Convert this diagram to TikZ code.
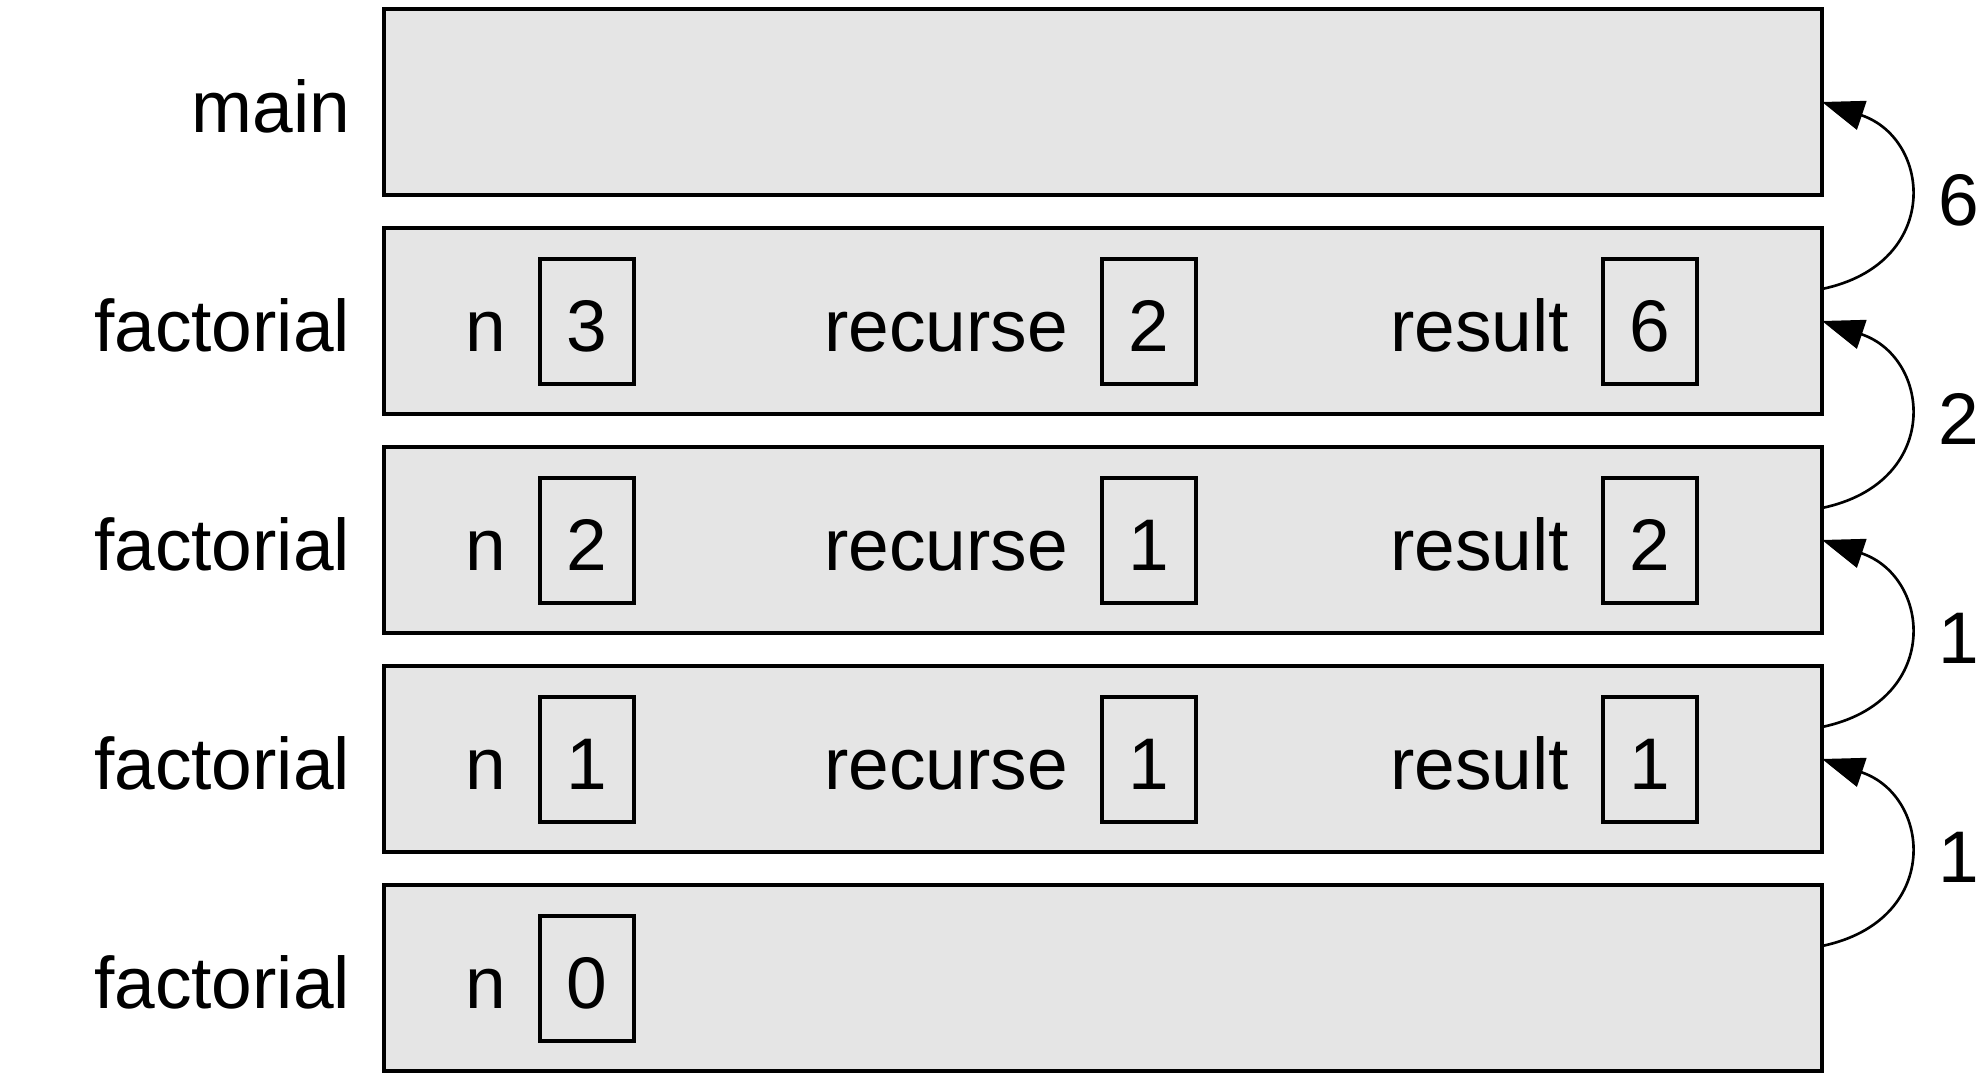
\documentclass[tikz,border=0pt]{standalone}
\usepackage{fontspec}
\setmainfont{Liberation Sans}
\usetikzlibrary{arrows.meta,calc}
\definecolor{framegray}{RGB}{229,229,229}
\begin{document}
\begin{tikzpicture}[x=0.1mm,y=-0.1mm,
  every node/.style={font=\fontsize{20.8}{25}\selectfont, inner sep=0pt, outer sep=0pt},
  frame/.style={draw, line width=0.95pt, fill=framegray, minimum width=143.8mm, minimum height=18.6mm},
  vbox/.style={draw, line width=0.95pt, minimum width=9.4mm, minimum height=12.5mm, text height=6.1mm, text depth=0mm},
  lbl/.style={anchor=base east},
  ret/.style={-{Triangle[length=4.2mm,width=3mm]}, line width=0.75pt},
  retval/.style={anchor=west, xshift=3mm}]
\useasboundingbox (0,0) rectangle (1987,1077);

% frames
\node[frame] (f1) at (1103,102) {};
\node[frame] (f2) at (1103,321) {};
\node[frame] (f3) at (1103,540) {};
\node[frame] (f4) at (1103,759) {};
\node[frame] (f5) at (1103,978) {};

% frame labels
\node[lbl] (l1) at (350,133) {main};
\node[lbl] (l2) at (350,352) {factorial};
\node[lbl] (l3) at (350,571) {factorial};
\node[lbl] (l4) at (350,790) {factorial};
\node[lbl] (l5) at (350,1009) {factorial};

% frame 2
\node[lbl] (n2) at (506,352) {n};
\node[vbox] (b2n) at (587,321.5) {3};
\node[lbl] (r2) at (1068,352) {recurse};
\node[vbox] (b2r) at (1149,321.5) {2};
\node[lbl] (s2) at (1569,352) {result};
\node[vbox] (b2s) at (1650,321.5) {6};

% frame 3
\node[lbl] (n3) at (506,571) {n};
\node[vbox] (b3n) at (587,540.5) {2};
\node[lbl] (r3) at (1068,571) {recurse};
\node[vbox] (b3r) at (1149,540.5) {1};
\node[lbl] (s3) at (1569,571) {result};
\node[vbox] (b3s) at (1650,540.5) {2};

% frame 4
\node[lbl] (n4) at (506,790) {n};
\node[vbox] (b4n) at (587,759.5) {1};
\node[lbl] (r4) at (1068,790) {recurse};
\node[vbox] (b4r) at (1149,759.5) {1};
\node[lbl] (s4) at (1569,790) {result};
\node[vbox] (b4s) at (1650,759.5) {1};

% frame 5
\node[lbl] (n5) at (506,1009) {n};
\node[vbox] (b5n) at (587,978.5) {0};

% return arrows
\draw[ret] ($(f2.east)+(0,-32)$) .. controls +(120,-25) and +(110,37) .. (f1.east) node[pos=0.5, retval] (v1) {6};
\draw[ret] ($(f3.east)+(0,-32)$) .. controls +(120,-25) and +(110,37) .. (f2.east) node[pos=0.5, retval] (v2) {2};
\draw[ret] ($(f4.east)+(0,-32)$) .. controls +(120,-25) and +(110,37) .. (f3.east) node[pos=0.5, retval] (v3) {1};
\draw[ret] ($(f5.east)+(0,-32)$) .. controls +(120,-25) and +(110,37) .. (f4.east) node[pos=0.5, retval] (v4) {1};
\end{tikzpicture}
\end{document}
